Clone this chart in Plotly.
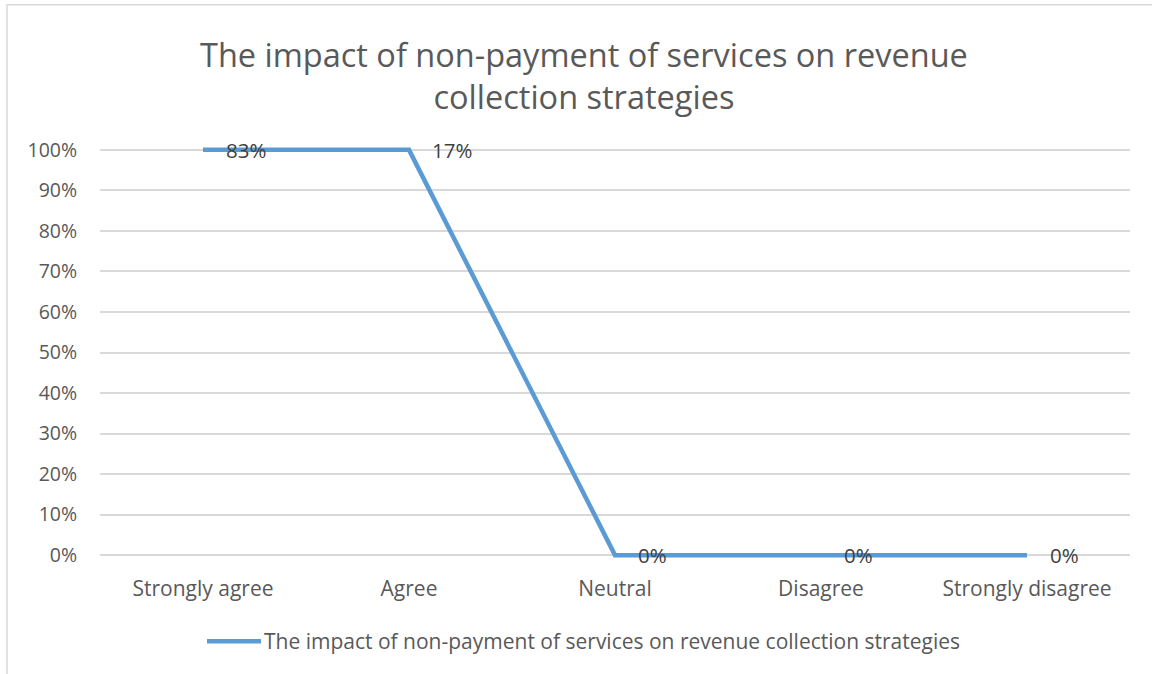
import numpy as np
import plotly.graph_objects as go

# Survey responses (percent of respondents per answer)
categories = ["Strongly agree", "Agree", "Neutral", "Disagree", "Strongly disagree"]
responses = [83, 17, 0, 0, 0]
series_name = "The impact of non-payment of services on revenue collection strategies"
title_text = "The impact of non-payment of services on revenue<br>collection strategies"
y_ticks = [i / 10 for i in range(11)]

# 100% stacked line: each point is the series' share of its category total
values = np.array(responses, dtype=float)
totals = values.copy()  # single series, so the category total is the value itself
share = np.divide(values, totals, out=np.zeros_like(values), where=totals > 0)

# Page geometry (pixels)
W, H = 1152, 674
PLOT_L, PLOT_R = 100, 1130
Y_TOP, Y_ZERO = 150, 555  # pixel rows of 100% and 0%
PAD = 0.012
px_per_unit = Y_ZERO - Y_TOP
top_px = Y_TOP - PAD * px_per_unit
bot_px = Y_ZERO + PAD * px_per_unit
plot_h = bot_px - top_px


def px_x(x):
    return (x - PLOT_L) / (PLOT_R - PLOT_L)


def px_y(y):
    return (bot_px - y) / plot_h


FONT = "Open Sans, Calibri, sans-serif"
BLUE = "#5B9BD5"
GRID = "#D9D9D9"
TXT = "#595959"

fig = go.Figure()
fig.add_trace(go.Scatter(
    x=categories,
    y=share,
    mode="lines",
    name=series_name,
    line=dict(color=BLUE, width=4.5),
    showlegend=False,
    cliponaxis=False,
))

# Data labels to the right of each point
for cat, s, v in zip(categories, share, responses):
    fig.add_annotation(
        x=cat, y=s, text=f"{v}%", showarrow=False,
        xanchor="left", yanchor="middle", xshift=21,
        font=dict(family=FONT, size=20.5, color="#404040"),
    )

# Chart title (two lines)
fig.add_annotation(xref="paper", yref="paper", x=px_x(584), y=px_y(76),
                   text=title_text, showarrow=False,
                   xanchor="center", yanchor="middle", align="center",
                   font=dict(family=FONT, size=32.5, color=TXT))

# Legend entry drawn below the plot
leg_y = px_y(641)
fig.add_shape(type="line", xref="paper", yref="paper",
              x0=px_x(207), x1=px_x(261), y0=leg_y, y1=leg_y,
              line=dict(color=BLUE, width=4.5))
fig.add_annotation(xref="paper", yref="paper", x=px_x(262), y=leg_y,
                   text=series_name, showarrow=False,
                   xanchor="left", yanchor="middle",
                   font=dict(family=FONT, size=21, color=TXT))

# Chart-area border
fig.add_shape(type="rect", xref="paper", yref="paper",
              x0=px_x(7), x1=px_x(1175), y0=px_y(700), y1=px_y(5),
              line=dict(color=GRID, width=1.5), fillcolor="rgba(0,0,0,0)",
              layer="below")

fig.update_layout(
    width=W, height=H,
    margin=dict(l=PLOT_L, r=W - PLOT_R, t=top_px, b=H - bot_px, pad=0),
    paper_bgcolor="white", plot_bgcolor="white",
    font=dict(family=FONT, color=TXT),
    xaxis=dict(type="category", range=[-0.5, len(categories) - 0.5],
               showgrid=False, showline=False,
               ticks="outside", ticklen=10, tickcolor="rgba(0,0,0,0)",
               tickfont=dict(family=FONT, size=21, color=TXT)),
    yaxis=dict(range=[-PAD, 1 + PAD], tickvals=y_ticks, tickformat=".0%",
               showgrid=True, gridcolor=GRID, gridwidth=1.5, zeroline=False,
               showline=False, ticks="outside", ticklen=18,
               tickcolor="rgba(0,0,0,0)",
               tickfont=dict(family=FONT, size=19.5, color=TXT)),
    showlegend=False,
)

fig.write_html("out.html")
